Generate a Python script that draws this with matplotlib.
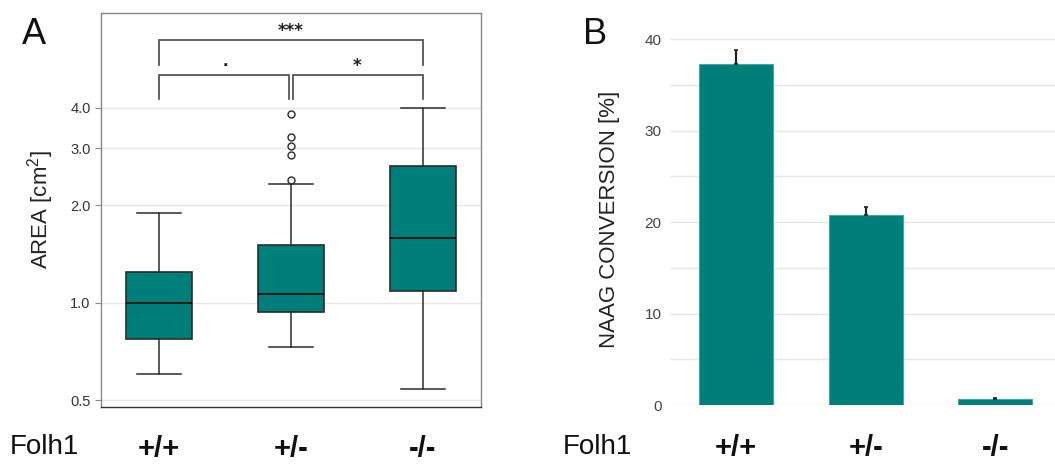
import matplotlib
matplotlib.use("Agg")
import matplotlib.pyplot as plt
from matplotlib.ticker import FixedLocator, NullLocator, MultipleLocator

plt.rcParams['font.family'] = ['Liberation Sans', 'DejaVu Sans']
plt.rcParams['mathtext.default'] = 'regular'

# ---- data ----
genotypes = ['+/+', '+/-', '-/-']

# panel A: box plot summary (AREA in cm^2)
area_whislo = [0.60, 0.73, 0.54]
area_q1 = [0.77, 0.935, 1.09]
area_med = [1.00, 1.065, 1.58]
area_q3 = [1.245, 1.51, 2.65]
area_whishi = [1.90, 2.33, 4.00]
area_fliers = [[], [2.40, 2.86, 3.06, 3.26, 3.82], []]

area_ticks = [0.5, 1.0, 2.0, 3.0, 4.0]
area_ticklabels = ['0.5', '1.0', '2.0', '3.0', '4.0']

# significance brackets: (left group, right group, label, level)
sig_pairs = [(0, 1, '.', 0), (1, 2, '*', 0), (0, 2, '***', 1)]

# panel B: NAAG conversion (%)
naag_mean = [37.3, 20.8, 0.7]
naag_err = [1.5, 0.9, 0.1]

TEAL = '#007e7a'
DARK = '#2b2b2b'
GRID = '#e6e6e6'

fig = plt.figure(figsize=(10.55, 4.68), dpi=100)

# ---------------- panel A ----------------
ax1 = fig.add_axes([0.0957, 0.1303, 0.3603, 0.8419])
stats = []
for i in range(len(genotypes)):
    stats.append(dict(med=area_med[i], q1=area_q1[i], q3=area_q3[i],
                      whislo=area_whislo[i], whishi=area_whishi[i],
                      fliers=area_fliers[i], label=genotypes[i]))
ax1.bxp(stats, positions=range(3), widths=0.5, patch_artist=True,
        boxprops=dict(facecolor=TEAL, edgecolor=DARK, linewidth=1.2),
        medianprops=dict(color='#111111', linewidth=1.3),
        whiskerprops=dict(color=DARK, linewidth=1.1),
        capprops=dict(color=DARK, linewidth=1.1),
        capwidths=0.33,
        flierprops=dict(marker='o', markersize=5, markerfacecolor='none',
                        markeredgecolor=DARK, markeredgewidth=1.0),
        zorder=3)
ax1.set_yscale('log')
ax1.set_ylim(0.476, 7.86)
ax1.set_xlim(-0.44, 2.44)
ax1.yaxis.set_major_locator(FixedLocator(area_ticks))
ax1.yaxis.set_minor_locator(NullLocator())
ax1.set_yticklabels(area_ticklabels)
ax1.tick_params(axis='y', labelsize=10.5, colors='#888888', labelcolor='#333333',
                length=4, width=0.8)
ax1.grid(axis='y', color=GRID, linewidth=1.0, zorder=0)
ax1.set_axisbelow(True)
for s in ['top', 'right', 'left']:
    ax1.spines[s].set_color('#888888')
    ax1.spines[s].set_linewidth(1.0)
ax1.spines['bottom'].set_color('#333333')
ax1.spines['bottom'].set_linewidth(1.0)
ax1.set_ylabel('AREA [cm$^{2}$]', fontsize=16, color='#222222', labelpad=10)
ax1.set_xticks(range(3))
ax1.set_xticklabels(genotypes, fontsize=21, fontweight='bold', color='#111111')
ax1.tick_params(axis='x', length=0, pad=20)

# brackets
lvl_y = [(4.26, 5.06), (5.43, 6.49)]
for a, b, lab, lvl in sig_pairs:
    lo, hi = lvl_y[lvl]
    xa = a + (0.015 if (lvl == 0 and a == 1) else 0)
    xb = b - (0.015 if (lvl == 0 and b == 1) else 0)
    ax1.plot([xa, xa, xb, xb], [lo, hi, hi, lo], color='#555555', lw=1.3,
             solid_joinstyle='miter', clip_on=False)
    if lab == '.':
        ax1.text((a + b) / 2, hi * 1.066, lab, ha='center', va='baseline',
                 fontsize=14, fontweight='bold', color='#222222')
    else:
        ax1.text((a + b) / 2, hi * 1.025, lab, ha='center', va='baseline',
                 fontsize=12, family='DejaVu Sans', fontweight='bold',
                 color='#222222')

fig.text(0.021, 0.905, 'A', fontsize=26, color='#111111')
fig.text(0.009, 0.045, 'Folh1', fontsize=20, color='#111111', va='center')

# ---------------- panel B ----------------
ax2 = fig.add_axes([0.635, 0.1346, 0.365, 0.7913])
x = list(range(3))
ax2.bar(x, naag_mean, width=0.57, color=TEAL, edgecolor='#3fa8a4',
        linewidth=0.8, zorder=3)
ax2.errorbar(x, naag_mean, yerr=[[0, 0, 0], naag_err], fmt='none',
             ecolor='#222222', elinewidth=1.6, capsize=1.5, capthick=1.2,
             zorder=4)
ax2.set_ylim(0, 40.5)
ax2.set_xlim(-0.51, 2.46)
ax2.yaxis.set_major_locator(MultipleLocator(10))
ax2.yaxis.set_minor_locator(MultipleLocator(5))
ax2.grid(axis='y', which='both', color=GRID, linewidth=1.0, zorder=0)
ax2.set_axisbelow(True)
for s in ax2.spines.values():
    s.set_visible(False)
ax2.tick_params(axis='y', which='both', length=0, labelsize=11,
                labelcolor='#444444', pad=6)
ax2.set_ylabel('NAAG CONVERSION [%]', fontsize=16, color='#222222', labelpad=18)
ax2.set_xticks(x)
ax2.set_xticklabels(genotypes, fontsize=21, fontweight='bold', color='#111111')
ax2.tick_params(axis='x', length=0, pad=21)

fig.text(0.553, 0.905, 'B', fontsize=26, color='#111111')
fig.text(0.533, 0.045, 'Folh1', fontsize=20, color='#111111', va='center')

fig.savefig('out.png', dpi=100)
